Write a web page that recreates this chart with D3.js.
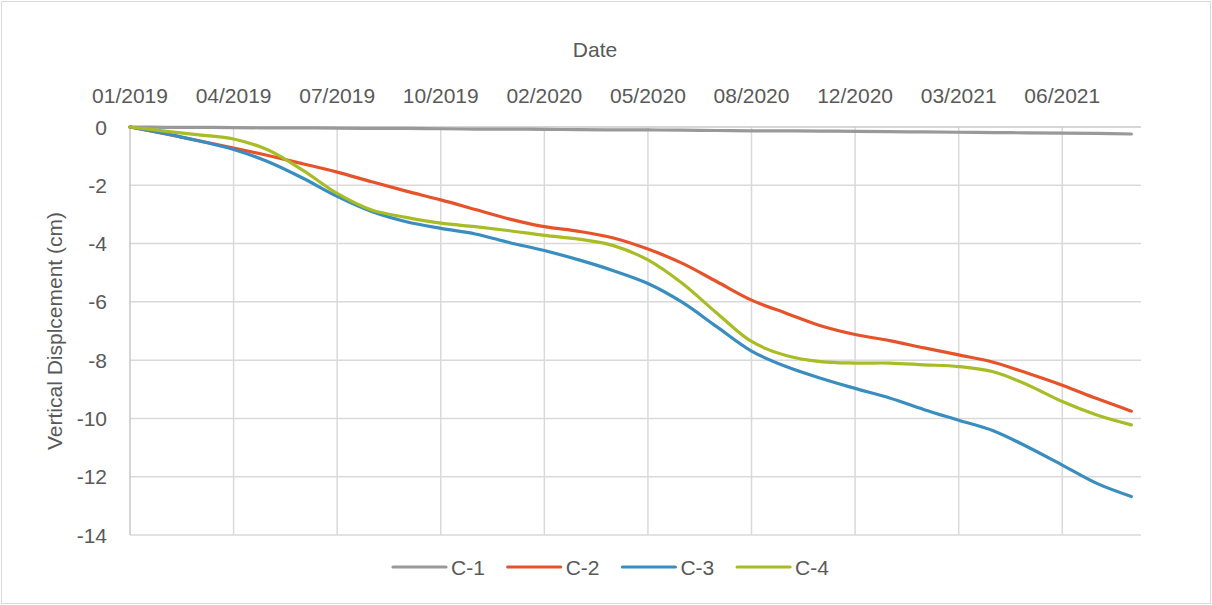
<!DOCTYPE html>
<html>
<head>
<meta charset="utf-8">
<script src="https://cdn.jsdelivr.net/npm/d3@7"></script>
<style>
  body { margin: 0; background: #fff; }
  svg { display: block; font-family: "Liberation Sans", Arial, sans-serif; }
</style>
</head>
<body>
<svg id="svg" width="1212" height="605"></svg>
<script>
// category ticks (a label every 3rd sample)
var tickLabels = ['01/2019', '04/2019', '07/2019', '10/2019', '02/2020', '05/2020', '08/2020', '12/2020', '03/2021', '06/2021'];
var tickIndex = [0, 3, 6, 9, 12, 15, 18, 21, 24, 27];
var yTicks = [0, -2, -4, -6, -8, -10, -12, -14];

var seriesNames = ['C-1', 'C-2', 'C-3', 'C-4'];
var seriesColors = ['#999999', '#E6532A', '#3A8DBF', '#A8BC26'];

var c1 = [0, -0.01, -0.01, -0.02, -0.03, -0.03, -0.04, -0.05, -0.05, -0.06, -0.07, -0.07, -0.08, -0.09, -0.1,
          -0.1, -0.11, -0.12, -0.13, -0.13, -0.14, -0.15, -0.16, -0.17, -0.18, -0.19, -0.2, -0.21, -0.22, -0.24];
var c2 = [0, -0.23, -0.47, -0.72, -0.98, -1.26, -1.55, -1.88, -2.2, -2.5, -2.83, -3.16, -3.42, -3.58, -3.81,
          -4.19, -4.68, -5.31, -5.94, -6.39, -6.82, -7.12, -7.33, -7.58, -7.82, -8.07, -8.45, -8.86, -9.32, -9.75];
var c3 = [0, -0.22, -0.48, -0.77, -1.19, -1.75, -2.38, -2.9, -3.25, -3.48, -3.67, -3.97, -4.24, -4.56, -4.93,
          -5.37, -6.02, -6.86, -7.69, -8.22, -8.62, -8.97, -9.3, -9.7, -10.06, -10.42, -10.98, -11.6, -12.23, -12.68];
var c4 = [0, -0.14, -0.27, -0.41, -0.79, -1.48, -2.28, -2.85, -3.1, -3.3, -3.42, -3.56, -3.72, -3.85, -4.07,
          -4.56, -5.37, -6.39, -7.36, -7.84, -8.05, -8.1, -8.1, -8.16, -8.22, -8.4, -8.85, -9.42, -9.88, -10.22];
var seriesValues = [c1, c2, c3, c4];

var svg = d3.select('#svg');
var margin = { top: 127, left: 130, right: 71, bottom: 70 };
var width = 1212, height = 605;
var textColor = '#595959';
var fontSize = '21px';

// outer border
svg.append('rect')
  .attr('x', 1.5).attr('y', 1.5)
  .attr('width', width - 3).attr('height', height - 3)
  .attr('fill', '#fff').attr('stroke', '#d9d9d9');

var xScale = d3.scaleLinear().domain([0, 29.28]).range([margin.left, width - margin.right]);
var yScale = d3.scaleLinear().domain([0, -14]).range([margin.top, height - margin.bottom]);

// horizontal gridlines
svg.append('g').selectAll('line')
  .data(yTicks.filter(d => d !== 0))
  .join('line')
  .attr('x1', xScale(0)).attr('x2', xScale.range()[1])
  .attr('y1', d => yScale(d)).attr('y2', d => yScale(d))
  .attr('stroke', '#d9d9d9').attr('stroke-width', 1.5);

// vertical gridlines
svg.append('g').selectAll('line')
  .data(tickIndex.slice(1))
  .join('line')
  .attr('x1', d => xScale(d)).attr('x2', d => xScale(d))
  .attr('y1', yScale(0)).attr('y2', yScale(-14))
  .attr('stroke', '#d9d9d9').attr('stroke-width', 1.5);

// axis lines
svg.append('line')
  .attr('x1', xScale(0)).attr('x2', xScale(0))
  .attr('y1', yScale(0)).attr('y2', yScale(-14))
  .attr('stroke', '#c8c8c8').attr('stroke-width', 1.5);
svg.append('line')
  .attr('x1', xScale(0)).attr('x2', xScale.range()[1])
  .attr('y1', yScale(0)).attr('y2', yScale(0))
  .attr('stroke', '#c8c8c8').attr('stroke-width', 1.5);

// x tick labels (top)
svg.append('g').selectAll('text')
  .data(tickIndex)
  .join('text')
  .attr('x', d => xScale(d))
  .attr('y', 103)
  .attr('text-anchor', 'middle')
  .attr('fill', textColor)
  .style('font-size', fontSize)
  .text((d, i) => tickLabels[i]);

// y tick labels
svg.append('g').selectAll('text')
  .data(yTicks)
  .join('text')
  .attr('x', 107)
  .attr('y', d => yScale(d))
  .attr('dy', '0.36em')
  .attr('text-anchor', 'end')
  .attr('fill', textColor)
  .style('font-size', fontSize)
  .text(d => d);

// axis titles
svg.append('text')
  .attr('x', 595).attr('y', 57)
  .attr('text-anchor', 'middle')
  .attr('fill', textColor)
  .style('font-size', fontSize)
  .text('Date');

svg.append('text')
  .attr('transform', 'translate(62,' + ((yScale(0) + yScale(-14)) / 2) + ') rotate(-90)')
  .attr('text-anchor', 'middle')
  .attr('fill', textColor)
  .style('font-size', fontSize)
  .text('Vertical Displcement (cm)');

// lines
var line = d3.line()
  .x((d, i) => xScale(i))
  .y(d => yScale(d))
  .curve(d3.curveCatmullRom.alpha(0.5));

svg.append('g').selectAll('path')
  .data(seriesValues)
  .join('path')
  .attr('d', d => line(d))
  .attr('fill', 'none')
  .attr('stroke', (d, i) => seriesColors[i])
  .attr('stroke-width', 3.2)
  .attr('stroke-linecap', 'round');

// legend
var legend = svg.append('g').attr('transform', 'translate(393,567)');
var item = legend.selectAll('g')
  .data(seriesNames)
  .join('g')
  .attr('transform', (d, i) => 'translate(' + (i * 114.7) + ',0)');
item.append('line')
  .attr('x1', 0).attr('x2', 53)
  .attr('stroke', (d, i) => seriesColors[i])
  .attr('stroke-width', 3.2)
  .attr('stroke-linecap', 'round');
item.append('text')
  .attr('x', 58)
  .attr('dy', '0.36em')
  .attr('fill', textColor)
  .style('font-size', fontSize)
  .text(d => d);
</script>
</body>
</html>
